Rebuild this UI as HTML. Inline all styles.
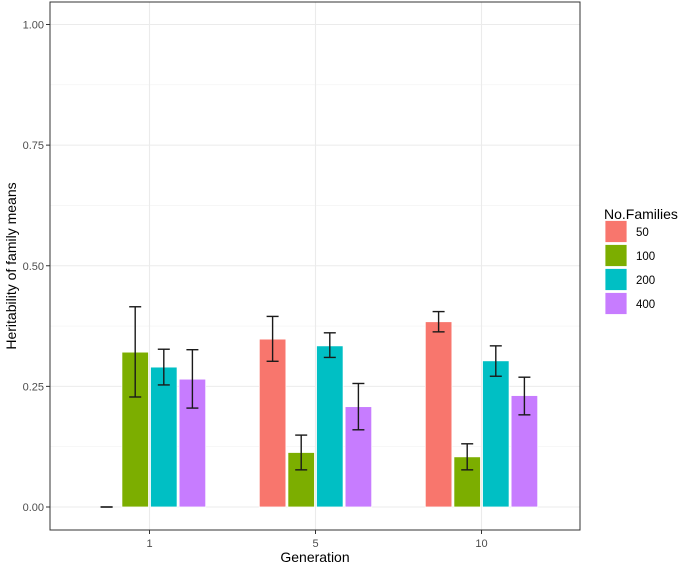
<!DOCTYPE html>
<html><head><meta charset="utf-8"><style>
body{margin:0;background:#fff;}
svg{display:block;font-family:"Liberation Sans",Arial,sans-serif;}
</style></head><body>
<svg id="chart" width="685" height="566">
<g id="grid"></g><g id="bars"></g><g id="axes"></g><g id="legend"></g>
</svg>
<script>
const categories = ["1","5","10"];
const groups = ["50","100","200","400"];
const colors = ["#F8766D","#7CAE00","#00BFC4","#C77CFF"];
const means50 = [0, 0.348, 0.384];
const means100 = [0.321, 0.113, 0.104];
const means200 = [0.290, 0.334, 0.303];
const means400 = [0.265, 0.208, 0.231];
const lo50 = [0, 0.302, 0.363], hi50 = [0, 0.395, 0.405];
const lo100 = [0.228, 0.077, 0.077], hi100 = [0.415, 0.149, 0.131];
const lo200 = [0.253, 0.310, 0.271], hi200 = [0.327, 0.361, 0.334];
const lo400 = [0.205, 0.160, 0.191], hi400 = [0.326, 0.256, 0.269];
const yTicks = [0, 0.25, 0.5, 0.75, 1.0];
const yTickLabels = ["0.00","0.25","0.50","0.75","1.00"];

const means=[means50,means100,means200,means400], los=[lo50,lo100,lo200,lo400], his=[hi50,hi100,hi200,hi400];
const L=50,R=580,T=2,B=530;
const y=v=>507-v*482.5;
const xc=i=>149.5+i*166;
const slot=28.6;
const NS="http://www.w3.org/2000/svg";
function mk(parent,tag,attrs,text){const e=document.createElementNS(NS,tag);for(const k in attrs)e.setAttribute(k,attrs[k]);if(text!==undefined)e.textContent=text;parent.appendChild(e);return e;}
const grid=document.getElementById('grid'),bars=document.getElementById('bars'),axes=document.getElementById('axes'),leg=document.getElementById('legend');
mk(grid,'rect',{x:L,y:T,width:R-L,height:B-T,fill:'#fff'});
for(let k=0;k<yTicks.length-1;k++){const v=(yTicks[k]+yTicks[k+1])/2;const g=mk(grid,'line',{x1:L,x2:R,y1:y(v),y2:y(v),stroke:'#f2f2f2','stroke-width':0.6});

}
yTicks.forEach((v,k)=>{const g=mk(grid,'line',{x1:L,x2:R,y1:y(v),y2:y(v),stroke:'#ebebeb','stroke-width':1.1});


const t=mk(axes,'text',{x:44,y:y(v)+4,'text-anchor':'end','font-size':11,fill:'#4d4d4d'},yTickLabels[k]);


mk(axes,'line',{x1:46,x2:L,y1:y(v),y2:y(v),stroke:'#333','stroke-width':1});});
categories.forEach((c,i)=>{const g=mk(grid,'line',{x1:xc(i),x2:xc(i),y1:T,y2:B,stroke:'#ebebeb','stroke-width':1.1});


mk(axes,'line',{x1:xc(i),x2:xc(i),y1:B,y2:B+4,stroke:'#333','stroke-width':1});
const t=mk(axes,'text',{x:xc(i),y:547,'text-anchor':'middle','font-size':11,fill:'#4d4d4d'},c);

});
groups.forEach((gname,s)=>{categories.forEach((c,i)=>{const cx=xc(i)+(s-1.5)*slot;const m=means[s][i];
const r=mk(bars,'rect',{x:cx-13.3,y:y(m),width:26.6,height:Math.max(0,y(0)-y(m)),fill:colors[s],stroke:'#fff','stroke-width':0.8});


const eg=mk(bars,'g',{stroke:'#1a1a1a','stroke-width':1.4,fill:'none'});


const yl=y(los[s][i]),yh=y(his[s][i]);
mk(eg,'line',{x1:cx,x2:cx,y1:yh,y2:yl});
mk(eg,'line',{x1:cx-6,x2:cx+6,y1:yh,y2:yh});
mk(eg,'line',{x1:cx-6,x2:cx+6,y1:yl,y2:yl});});});
const fr=mk(axes,'rect',{x:L,y:T,width:R-L,height:B-T,fill:'none',stroke:'#333','stroke-width':1});


const xt=mk(axes,'text',{x:315,y:562,'text-anchor':'middle','font-size':14,fill:'#000'},'Generation');


const yt=mk(axes,'text',{x:0,y:0,transform:'translate(16,266) rotate(-90)','text-anchor':'middle','font-size':14,fill:'#000'},'Heritability of family means');


const lt=mk(leg,'text',{x:604,y:219,'font-size':14,fill:'#000'},'No.Families');


groups.forEach((gname,s)=>{const ky=220.5+s*24;const eg=mk(leg,'g',{});


mk(eg,'rect',{x:605,y:ky,width:22,height:22,fill:colors[s],stroke:'#fff','stroke-width':0.8});
mk(eg,'text',{x:636,y:ky+15.5,'font-size':11.5,fill:'#000'},gname);});
</script>
</body></html>
